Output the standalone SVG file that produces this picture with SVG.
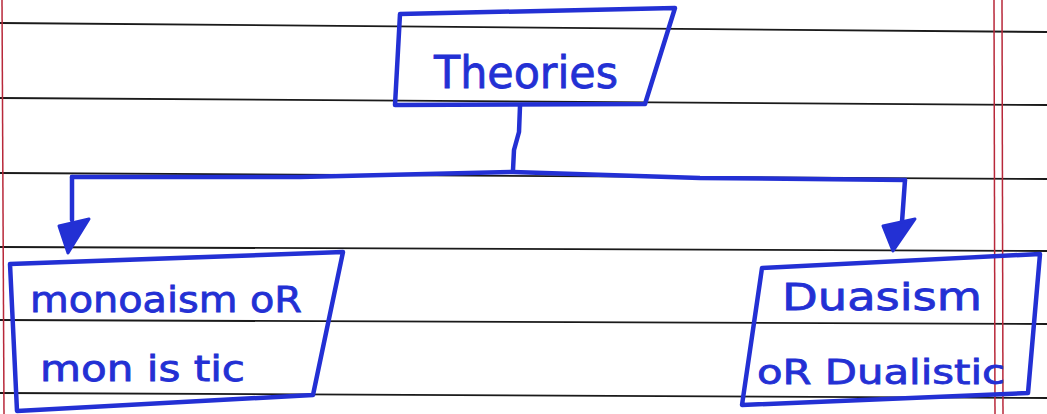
<svg xmlns="http://www.w3.org/2000/svg" width="1047" height="414" viewBox="0 0 1047 414">
  <style>
    .rule { stroke: #1a1a1a; stroke-width: 1.8; fill: none; }
    .margin { stroke: #b8283a; stroke-width: 1.5; fill: none; }
    .box { fill: none; stroke: #2330d4; stroke-width: 4.5; stroke-linejoin: round; stroke-linecap: round; }
    .wire { fill: none; stroke: #2330d4; stroke-width: 4.5; stroke-linecap: round; stroke-linejoin: round; }
    .head { fill: #2330d4; stroke: #2330d4; stroke-width: 3; stroke-linejoin: round; }
    .hand { font-family: "DejaVu Sans", "Liberation Sans", sans-serif; fill: #2330d4; stroke: #2330d4; stroke-width: 0.8; }
  </style>
  <rect width="1047" height="414" fill="#ffffff"/>
  <g id="paper">
    <line class="rule" x1="0" y1="23" x2="1047" y2="32"/>
    <line class="rule" x1="0" y1="98" x2="1047" y2="105"/>
    <line class="rule" x1="0" y1="173" x2="1047" y2="179"/>
    <line class="rule" x1="0" y1="247" x2="1047" y2="251"/>
    <line class="rule" x1="0" y1="320" x2="1047" y2="324"/>
    <line class="rule" x1="0" y1="393" x2="1047" y2="398"/>
    <line class="margin" x1="994" y1="0" x2="995" y2="414"/>
    <line class="margin" x1="1002" y1="0" x2="1003" y2="414"/>
    <line class="margin" x1="2" y1="0" x2="4" y2="414"/>
  </g>
  <g id="connectors">
    <path class="wire" d="M520,106 L519,132 L514,150 L513,170"/>
    <path class="wire" d="M72,177 L300,177 L513,172 L700,178 L905,180"/>
    <path class="wire" d="M72,177 L72,220"/>
    <polygon class="head" points="59,226 89,219 68,253"/>
    <path class="wire" d="M905,180 L902,222"/>
    <polygon class="head" points="883,226 915,219 893,251"/>
  </g>
  <g id="node-theories">
    <polygon class="box" points="400,14 675,8 645,104 395,105"/>
    <text class="hand" x="434" y="88" font-size="44" textLength="184" lengthAdjust="spacingAndGlyphs">Theories</text>
  </g>
  <g id="node-monism">
    <polygon class="box" points="10,264 343,252 313,395 17,411"/>
    <text class="hand" x="30" y="312" font-size="36" textLength="272" lengthAdjust="spacingAndGlyphs">monoaism oR</text>
    <text class="hand" x="40" y="381" font-size="36" textLength="205" lengthAdjust="spacingAndGlyphs">mon is tic</text>
  </g>
  <g id="node-dualism">
    <polygon class="box" points="762,268 1040,254 1028,393 742,405"/>
    <text class="hand" x="782" y="310" font-size="38" textLength="200" lengthAdjust="spacingAndGlyphs">Duasism</text>
    <text class="hand" x="757" y="384" font-size="34" textLength="248" lengthAdjust="spacingAndGlyphs">oR Dualistic</text>
  </g>
</svg>
